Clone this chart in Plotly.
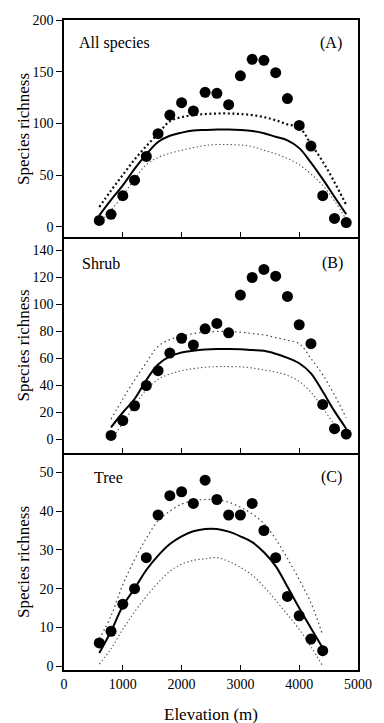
import plotly.graph_objects as go

# ---------------- data ----------------
elev_a = [600, 800, 1000, 1200, 1400, 1600, 1800, 2000, 2200, 2400, 2600,
          2800, 3000, 3200, 3400, 3600, 3800, 4000, 4200, 4400, 4600, 4800]
rich_a = [6, 12, 30, 45, 68, 90, 108, 120, 112, 130, 129,
          118, 146, 162, 161, 149, 124, 98, 78, 30, 8, 4]
fit_a = [11, 26, 40, 56, 70, 82, 88, 91, 93, 93.6, 94,
         94, 93.5, 92.5, 90.4, 87, 83.5, 76, 62, 46, 29, 12]
upper_a = [19, 35, 50, 65, 78, 90, 102, 106, 108, 109, 109.5,
           109.5, 109, 108, 106, 103, 99, 96, 80, 63, 43, 21]
lower_a = [3, 16, 30, 46, 60, 67, 71, 74, 76.5, 78.5, 79.5,
           79.5, 79, 77.5, 74, 70.5, 66, 60, 51, 40, 25, 7]

elev_b = [800, 1000, 1200, 1400, 1600, 1800, 2000, 2200, 2400, 2600,
          2800, 3000, 3200, 3400, 3600, 3800, 4000, 4200, 4400, 4600, 4800]
rich_b = [3, 14, 25, 40, 51, 64, 75, 70, 82, 86,
          79, 107, 120, 126, 121, 106, 85, 71, 26, 8, 4]
fit_b = [9, 20, 30, 44, 55.5, 61.5, 64.5, 65.8, 66.6, 67,
         67, 66.8, 66.3, 65.7, 63.5, 60.5, 56.5, 49, 35.5, 21, 8]
upper_b = [15, 30, 44, 57, 69, 74, 76.5, 78.5, 79.5, 80,
           80, 79.5, 78.5, 77.5, 75.5, 73.5, 71, 60, 48, 33, 16]
lower_b = [0, 12, 25, 37, 44.5, 48.5, 51, 52.5, 53.5, 54,
           54, 53.8, 53, 51.5, 50, 47.5, 43, 35, 23.5, 11, 1]

elev_c = [600, 800, 1000, 1200, 1400, 1600, 1800, 2000, 2200, 2400,
          2600, 2800, 3000, 3200, 3400, 3600, 3800, 4000, 4200, 4400]
rich_c = [6, 9, 16, 20, 28, 39, 44, 45, 42, 48,
          43, 39, 39, 42, 35, 28, 18, 13, 7, 4]
fit_c = [3.4, 9, 15.5, 20, 24.8, 28.5, 31.5, 33.5, 34.8, 35.4,
         35.4, 34.7, 33.5, 32, 29.4, 25.8, 20.5, 15, 9.8, 4.7]
upper_c = [7, 13, 21, 27.5, 33, 37.5, 40, 41.8, 42.7, 43,
           43, 42.3, 41, 39.3, 36.8, 32.8, 27.8, 22.3, 16.3, 8]
lower_c = [0.5, 4.5, 9.5, 14, 18, 21.5, 24.5, 26.3, 27.3, 27.7,
           28, 27, 25.5, 23.5, 20.5, 17, 13.3, 9.5, 5, 0]

panel_names = ["All species", "Shrub", "Tree"]
panel_tags = ["(A)", "(B)", "(C)"]
x_ticks = [0, 1000, 2000, 3000, 4000, 5000]
y_ticks_a = [0, 50, 100, 150, 200]
y_ticks_b = [0, 20, 40, 60, 80, 100, 120, 140]
y_ticks_c = [0, 10, 20, 30, 40, 50]

# ---------------- figure ----------------
FONT = "Times New Roman, Liberation Serif, DejaVu Serif, serif"
W, H = 384, 723
ML, MR, MT, MB = 64, 16, 20, 53
PW, PH = W - ML - MR, H - MT - MB


def py(p):  # pixel y -> paper y
    return (H - MB - p) / PH


def px(p):  # pixel x -> paper x
    return (p - ML) / PW


fig = go.Figure()

panels = [
    (elev_a, rich_a, fit_a, upper_a, lower_a, "x", "y"),
    (elev_b, rich_b, fit_b, upper_b, lower_b, "x2", "y2"),
    (elev_c, rich_c, fit_c, upper_c, lower_c, "x3", "y3"),
]

for i, (ex, rv, fv, uv, lv, xa, ya) in enumerate(panels):
    if i == 0:
        up_line = dict(color="#111", width=2.2, dash="2px,2.6px")
    else:
        up_line = dict(color="#444", width=1.2, dash="1.5px,3px")
    lo_line = dict(color="#555", width=1.1, dash="1.4px,2.4px")
    fig.add_trace(go.Scatter(x=ex, y=uv, mode="lines", line=up_line,
                             xaxis=xa, yaxis=ya, showlegend=False,
                             line_shape="spline"))
    fig.add_trace(go.Scatter(x=ex, y=lv, mode="lines", line=lo_line,
                             xaxis=xa, yaxis=ya, showlegend=False,
                             line_shape="spline"))
    fig.add_trace(go.Scatter(x=ex, y=fv, mode="lines",
                             line=dict(color="black", width=2),
                             xaxis=xa, yaxis=ya, showlegend=False,
                             line_shape="spline"))
    fig.add_trace(go.Scatter(x=ex, y=rv, mode="markers",
                             marker=dict(color="black", size=11),
                             xaxis=xa, yaxis=ya, showlegend=False))

d_a = [py(237), 1.0]
d_b = [py(453), py(237)]
d_c = [0.0, py(453)]

tickfont = dict(family=FONT, size=14, color="black")
common_x = dict(range=[0, 5000], tickvals=x_ticks, ticks="inside", ticklen=5,
                tickwidth=1.3, tickcolor="black", linecolor="black",
                linewidth=1.5, showgrid=False, zeroline=False,
                tickfont=tickfont, domain=[0, 1])
common_y = dict(ticks="outside", ticklen=6, tickwidth=1.3, tickcolor="black",
                showline=True, linecolor="black", linewidth=1.5,
                mirror=True, showgrid=False, zeroline=False,
                tickfont=tickfont)

fig.update_layout(
    width=W, height=H,
    margin=dict(l=ML, r=MR, t=MT, b=MB),
    paper_bgcolor="white", plot_bgcolor="white",
    font=dict(family=FONT, color="black"),
    xaxis=dict(anchor="y", showline=True, showticklabels=False, mirror=True, **common_x),
    xaxis2=dict(anchor="y2", showline=True, showticklabels=False, **common_x),
    xaxis3=dict(anchor="y3", showline=True, showticklabels=True, **common_x),
    xaxis4=dict(anchor="y2", overlaying="x2", side="top", showline=False,
                showticklabels=False, **common_x),
    xaxis5=dict(anchor="y3", overlaying="x3", side="top", showline=False,
                showticklabels=False, **common_x),
    yaxis=dict(anchor="x", domain=d_a, range=[-10, 200], tickvals=y_ticks_a, **common_y),
    yaxis2=dict(anchor="x2", domain=d_b, range=[-10, 150], tickvals=y_ticks_b, **common_y),
    yaxis3=dict(anchor="x3", domain=d_c, range=[-1, 55], tickvals=y_ticks_c, **common_y),
)

ann = []
name_pos = [(77, 43), (81, 263), (93, 477)]
tag_pos = [(354, 43), (355, 263), (354, 477)]
for i in range(3):
    ann.append(dict(text=panel_names[i], xref="paper", yref="paper",
                    x=px(name_pos[i][0]), y=py(name_pos[i][1]),
                    xanchor="left", yanchor="middle", showarrow=False,
                    font=dict(family=FONT, size=16, color="black")))
    ann.append(dict(text=panel_tags[i], xref="paper", yref="paper",
                    x=px(tag_pos[i][0]), y=py(tag_pos[i][1]),
                    xanchor="right", yanchor="middle", showarrow=False,
                    font=dict(family=FONT, size=16, color="black")))

for cy in [128.5, 345, 561.5]:
    ann.append(dict(text="Species richness", xref="paper", yref="paper",
                    x=px(22), y=py(cy), textangle=-90,
                    xanchor="center", yanchor="middle", showarrow=False,
                    font=dict(family=FONT, size=17, color="black")))

ann.append(dict(text="Elevation (m)", xref="paper", yref="paper",
                x=px(216), y=py(714), xanchor="center", yanchor="middle",
                showarrow=False, font=dict(family=FONT, size=17, color="black")))

fig.update_layout(annotations=ann)

fig.write_html("out.html")
